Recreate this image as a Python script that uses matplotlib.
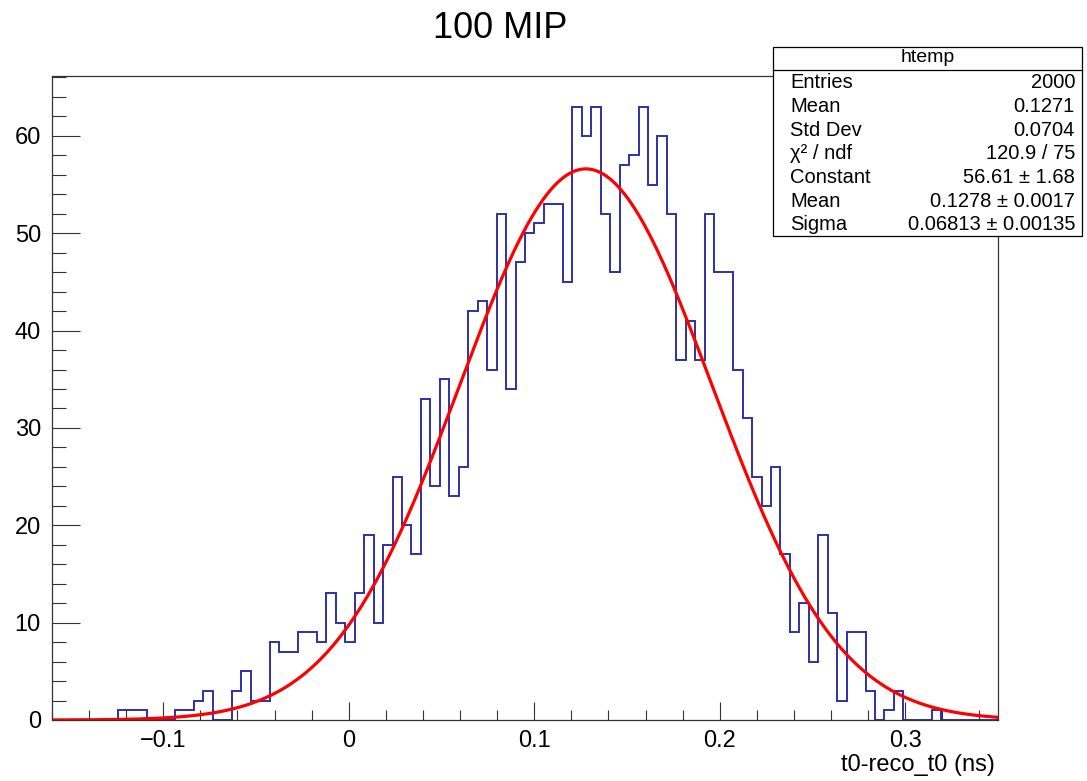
import numpy as np
import matplotlib
matplotlib.use("Agg")
import matplotlib.pyplot as plt
from matplotlib.patches import Rectangle
from matplotlib.ticker import MultipleLocator

plt.rcParams['font.family'] = ['Liberation Sans', 'DejaVu Sans']

# histogram htemp: 100 bins between x_min and x_max
x_min, x_max = -0.16, 0.35
counts = [0, 0, 0, 0, 0, 0, 0, 1, 1, 1,
          0, 0, 0, 1, 1, 2, 3, 0, 0, 3,
          5, 2, 2, 8, 7, 7, 9, 9, 8, 13,
          10, 8, 13, 19, 10, 18, 25, 20, 17, 33,
          24, 35, 23, 26, 42, 43, 36, 52, 34, 47,
          50, 51, 53, 53, 45, 63, 60, 63, 52, 46,
          57, 58, 63, 55, 60, 52, 37, 41, 37, 52,
          46, 46, 36, 31, 25, 22, 26, 17, 9, 12,
          6, 19, 11, 2, 9, 9, 3, 0, 1, 3,
          0, 0, 0, 1, 0, 0, 0, 0, 0, 0]

# gaussian fit result (from stats box)
fit_const, fit_mean, fit_sigma = 56.61, 0.1278, 0.06813

stat_names = ['Entries', 'Mean', 'Std Dev', 'χ² / ndf', 'Constant', 'Mean', 'Sigma']
stat_values = ['2000', '0.1271', '0.0704', '120.9 / 75', '56.61 ± 1.68',
               '0.1278 ± 0.0017', '0.06813 ± 0.00135']

W, H = 1087, 781
fig = plt.figure(figsize=(W / 100, H / 100), dpi=100)
ax = fig.add_axes([52 / W, 61 / H, 946 / W, 644 / H])

edges = np.linspace(x_min, x_max, len(counts) + 1)
ax.stairs(counts, edges, color='#3030a8', lw=1.4, baseline=0)

xf = np.linspace(x_min, x_max, 600)
yf = fit_const * np.exp(-0.5 * ((xf - fit_mean) / fit_sigma) ** 2)
ax.plot(xf, yf, color='red', lw=2.3)

ax.set_xlim(x_min, x_max)
ax.set_ylim(0, max(counts) * 1.05)

ax.xaxis.set_major_locator(MultipleLocator(0.1))
ax.xaxis.set_minor_locator(MultipleLocator(0.02))
ax.yaxis.set_major_locator(MultipleLocator(10))
ax.yaxis.set_minor_locator(MultipleLocator(2))
ax.set_xticks([-0.1, 0, 0.1, 0.2, 0.3])
ax.set_xticklabels(['−0.1', '0', '0.1', '0.2', '0.3'])

ax.tick_params(axis='both', which='both', direction='in', width=0.8, color='#333333',
               labelsize=17, top=False, right=False)
ax.tick_params(axis='x', which='major', length=13, pad=7)
ax.tick_params(axis='x', which='minor', length=7)
ax.tick_params(axis='y', which='major', length=20, pad=8)
ax.tick_params(axis='y', which='minor', length=10)
for s in ax.spines.values():
    s.set_linewidth(0.9)
    s.set_color('#333333')

fig.text(500 / W, 1 - 28 / H, '100 MIP', fontsize=26, ha='center', va='center')
fig.text(995 / W, 1 - 765 / H, 't0-reco_t0 (ns)', fontsize=17, ha='right', va='center')

# stats box
bx0, bx1, by0, by1, hdr = 773, 1082, 47, 236, 70
fig.add_artist(Rectangle((bx0 / W, 1 - by1 / H), (bx1 - bx0) / W, (by1 - by0) / H,
                         transform=fig.transFigure, facecolor='white',
                         edgecolor='black', lw=0.9, zorder=10))
fig.add_artist(plt.Line2D([bx0 / W, bx1 / W], [1 - hdr / H, 1 - hdr / H],
                          transform=fig.transFigure, color='black', lw=0.9, zorder=11))
fig.text((bx0 + bx1) / 2 / W, 1 - 58 / H, 'htemp', fontsize=14, ha='center', va='center', zorder=12)
for i, (n, v) in enumerate(zip(stat_names, stat_values)):
    yy = 1 - (83 + i * 23.6) / H
    fig.text(790 / W, yy, n, fontsize=14.5, ha='left', va='center', zorder=12)
    fig.text(1075 / W, yy, v, fontsize=14.5, ha='right', va='center', zorder=12)

fig.savefig('out.png', dpi=100)
